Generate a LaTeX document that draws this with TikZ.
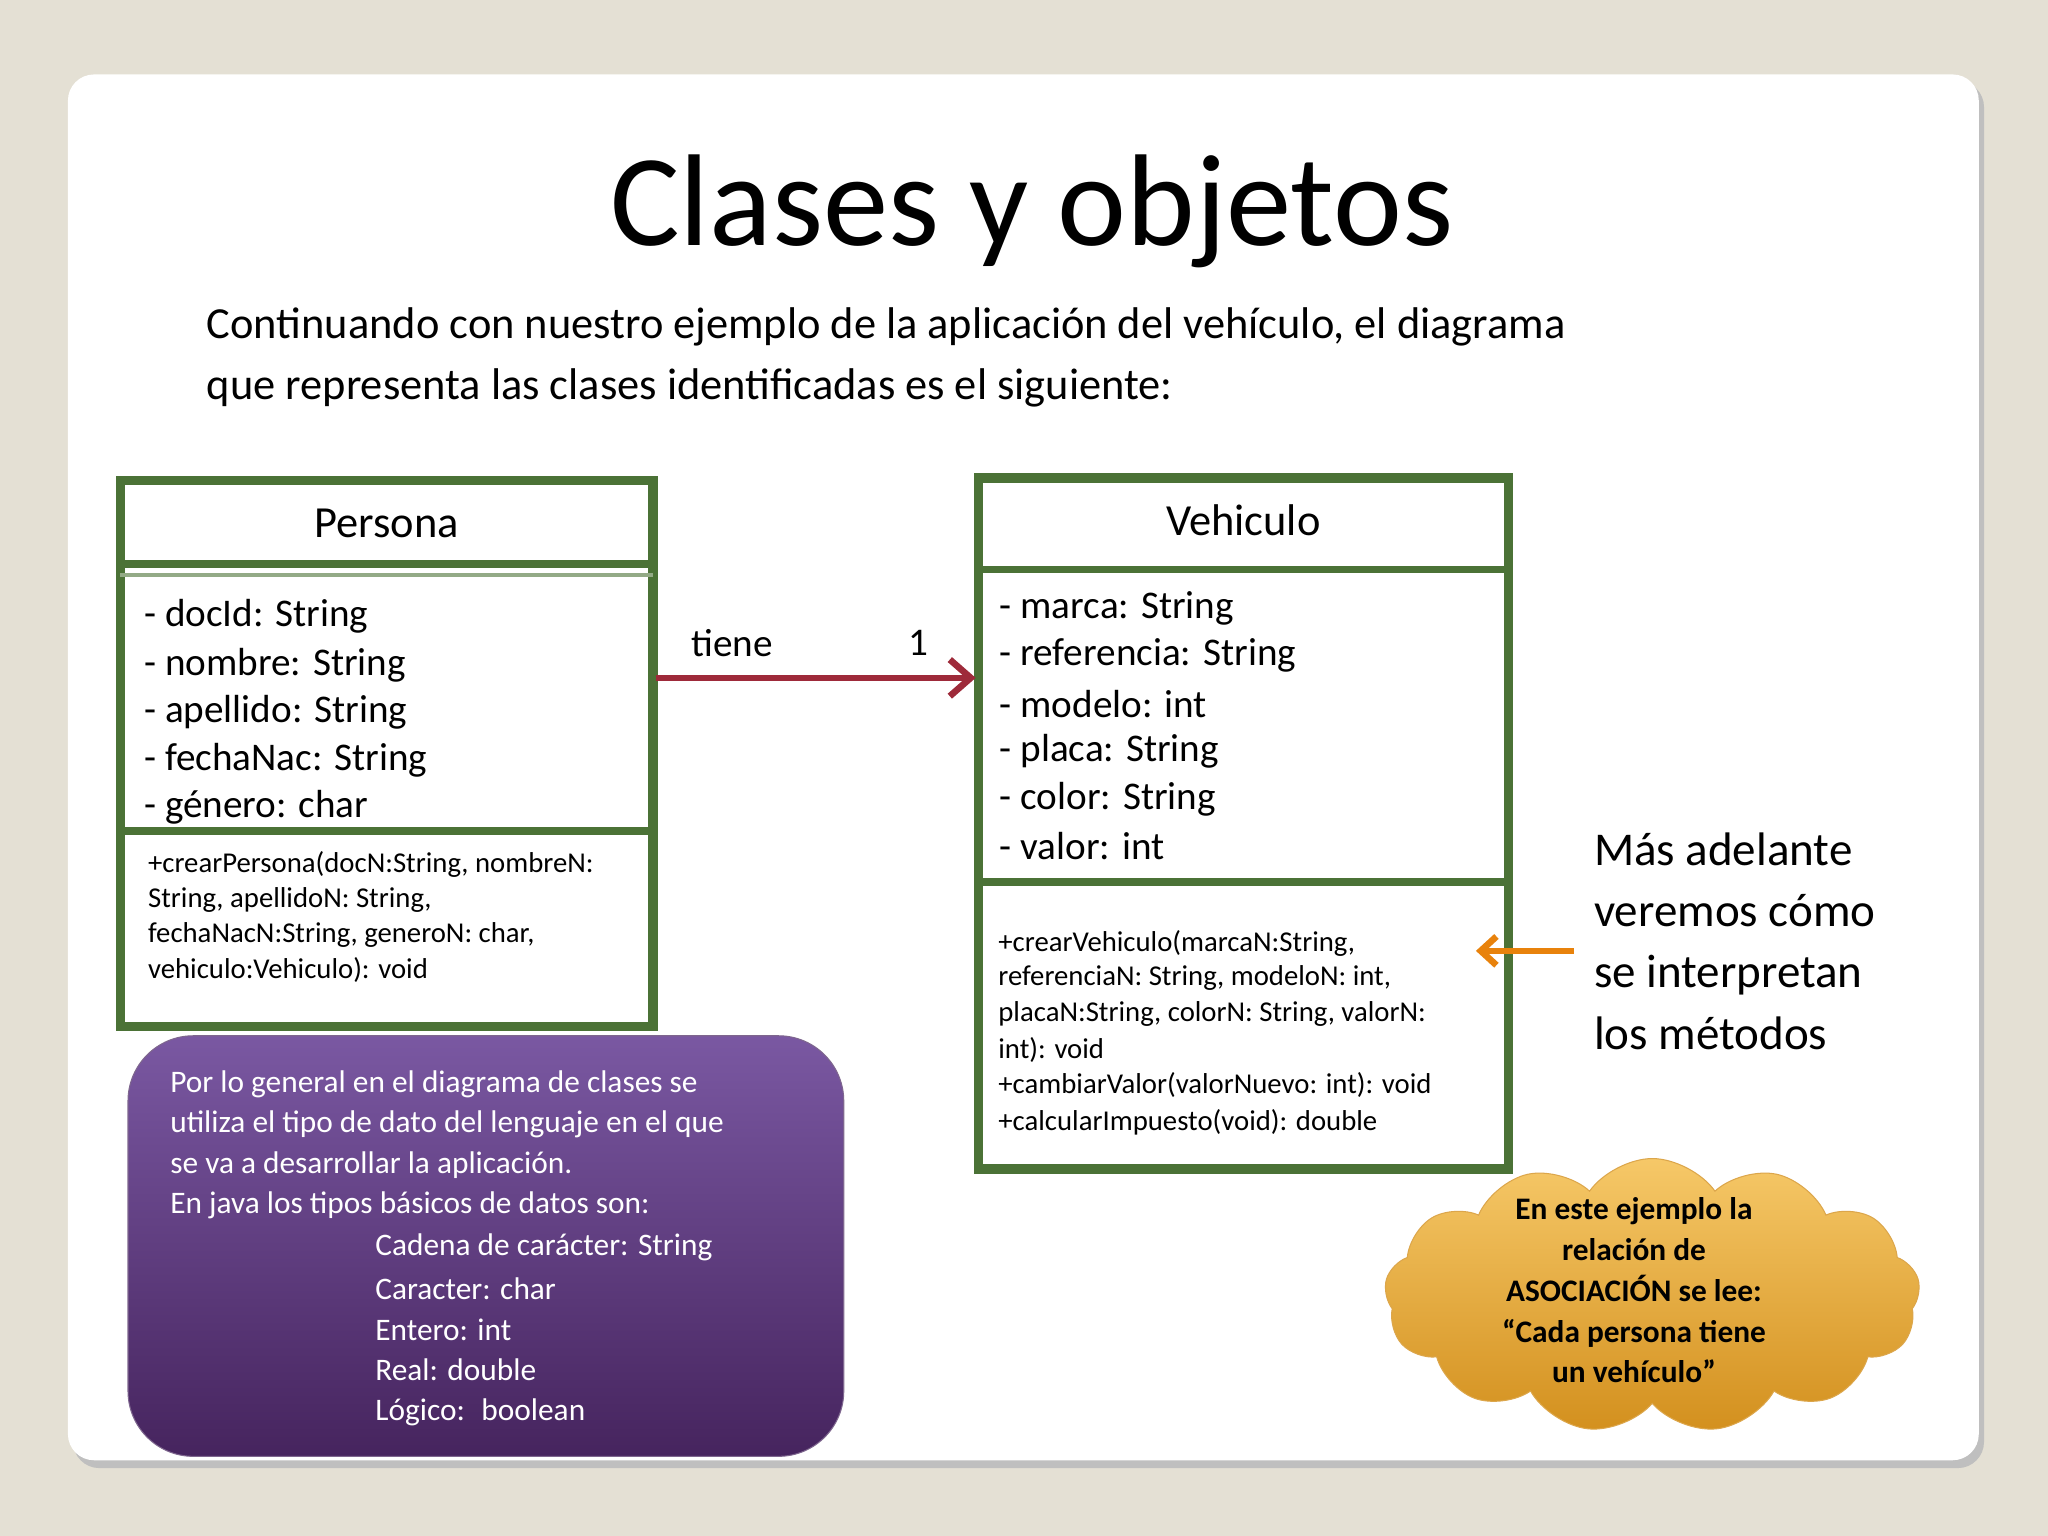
\documentclass[tikz,border=0pt]{standalone}
\usepackage{fontspec}
\setmainfont{Carlito}
\usetikzlibrary{shapes.symbols,arrows.meta}
\definecolor{bgc}{HTML}{E4E0D4}
\definecolor{grn}{HTML}{4B7236}
\definecolor{arr}{HTML}{9E2A3A}
\definecolor{pup}{HTML}{7A58A2}
\definecolor{pdn}{HTML}{46245E}
\definecolor{otop}{HTML}{F6C868}
\definecolor{obot}{HTML}{D3901E}
\definecolor{org}{HTML}{E8820C}
\begin{document}
\begin{tikzpicture}[x=0.5pt,y=-0.5pt,
  umlbox/.style={draw=grn,line width=3.5pt},
  sep/.style={draw=grn,line width=3pt},
  attr/.style={anchor=west,font=\fontsize{15}{18}\selectfont,inner sep=0pt},
  meth/.style={anchor=west,font=\fontsize{11}{13}\selectfont,inner sep=0pt},
  ptxt/.style={anchor=west,font=\fontsize{12}{14}\selectfont,text=white,inner sep=0pt},
  jtxt/.style={ptxt,text width=242pt,align=justify},
  ctxt/.style={font=\bfseries\fontsize{12}{14}\selectfont,inner sep=0pt}]
\useasboundingbox (0,0) rectangle (1568,1176);
\fill[bgc] (0,0) rectangle (1568,1176);
\fill[black!25,rounded corners=10pt] (56,62) rectangle (1519,1124);
\fill[white,rounded corners=10pt] (52,57) rectangle (1515,1118);
\node (title) at (790,162) {\fontsize{50}{60}\selectfont Clases y objetos};
\node[anchor=west,inner sep=0pt] (p1) at (158,250) {\fontsize{17}{20}\selectfont Continuando con nuestro ejemplo de la aplicación del vehículo, el diagrama};
\node[anchor=west,inner sep=0pt] (p2) at (158,297) {\fontsize{17}{20}\selectfont que representa las clases identificadas es el siguiente:};
% Persona
\draw[umlbox] (92,368) rectangle (500,786);
\draw[sep] (92,432) -- (500,432);
\draw[grn!60,line width=1.5pt] (92,440) -- (500,440);
\draw[sep] (92,636) -- (500,636);
\node (pn) at (296,401) {\fontsize{17}{20}\selectfont Persona};
\node[attr] (pa1) at (110,472) {- docId: String};
\node[attr] (pa2) at (110,509) {- nombre: String};
\node[attr] (pa3) at (110,545) {- apellido: String};
\node[attr] (pa4) at (110,582) {- fechaNac: String};
\node[attr] (pa5) at (110,618) {- género: char};
\node[meth] (pm1) at (113,662) {+crearPersona(docN:String, nombreN:};
\node[meth] (pm2) at (113,689) {String, apellidoN: String,};
\node[meth] (pm3) at (113,716) {fechaNacN:String, generoN: char,};
\node[meth] (pm4) at (113,743) {vehiculo:Vehiculo): void};
\coordinate (pr) at (502,519);
% Vehiculo
\draw[umlbox] (749,366) rectangle (1155,895);
\draw[sep] (749,436) -- (1155,436);
\draw[sep] (749,675) -- (1155,675);
\node (vn) at (952,398) {\fontsize{17}{20}\selectfont Vehiculo};
\node[attr] (va1) at (765,466) {- marca: String};
\node[attr] (va2) at (765,502) {- referencia: String};
\node[attr] (va3) at (765,539) {- modelo: int};
\node[attr] (va4) at (765,575) {- placa: String};
\node[attr] (va5) at (765,612) {- color: String};
\node[attr] (va6) at (765,648) {- valor: int};
\node[meth] (vm1) at (764,722) {+crearVehiculo(marcaN:String,};
\node[meth] (vm2) at (764,749) {referenciaN: String, modeloN: int,};
\node[meth] (vm3) at (764,776) {placaN:String, colorN: String, valorN:};
\node[meth] (vm4) at (764,804) {int): void};
\node[meth] (vm5) at (764,831) {+cambiarValor(valorNuevo: int): void};
\node[meth] (vm6) at (764,859) {+calcularImpuesto(void): double};
\coordinate (vl) at (747,519);
\draw[arr,line width=2.5pt,-{Straight Barb[length=8pt,width=14pt]}] (pr) -- (vl);
\node[attr] (tiene) at (529,492) {tiene};
\node[attr] (one) at (695,492) {1};
% right note
\coordinate (oa) at (1205,728);
\coordinate (ob) at (1130,728);
\draw[org,line width=2.5pt,-{Straight Barb[length=6pt,width=11pt]}] (oa) -- (ob);
\node[anchor=north west,align=left,inner sep=0pt,font=\fontsize{18}{23.5}\selectfont] (note) at (1220,637) {Más adelante\\veremos cómo\\se interpretan\\los métodos};
% purple box
\shade[top color=pup,bottom color=pdn,rounded corners=25pt,draw=pdn!70] (98,793) rectangle (646,1115);
\node[jtxt] (t1) at (130,830) {Por lo general en el diagrama de clases se\par\parfillskip=0pt};
\node[jtxt] (t2) at (130,861) {utiliza el tipo de dato del lenguaje en el que\par\parfillskip=0pt};
\node[ptxt] (t3) at (130,892) {se va a desarrollar la aplicación.};
\node[ptxt] (t4) at (130,923) {En java los tipos básicos de datos son:};
\node[ptxt] (t5) at (287,955) {Cadena de carácter: String};
\node[ptxt] (t6) at (287,987) {Caracter: char};
\node[ptxt] (t7) at (287,1018) {Entero: int};
\node[ptxt] (t8) at (287,1049) {Real: double};
\node[ptxt] (t9) at (287,1081) {Lógico:~ boolean};
% cloud
\node[cloud,cloud puffs=13,cloud puff arc=110,aspect=2,minimum width=205pt,minimum height=105pt,
  top color=otop,bottom color=obot,draw=obot!80,fill opacity=1] (cl) at (1265,992) {};
\node[ctxt,align=center,font=\bfseries\fontsize{12}{15.6}\selectfont] (ct) at (1251,988)
 {En este ejemplo la\\relación de\\ASOCIACIÓN se lee:\\“Cada persona tiene\\un vehículo”};
\end{tikzpicture}
\end{document}
